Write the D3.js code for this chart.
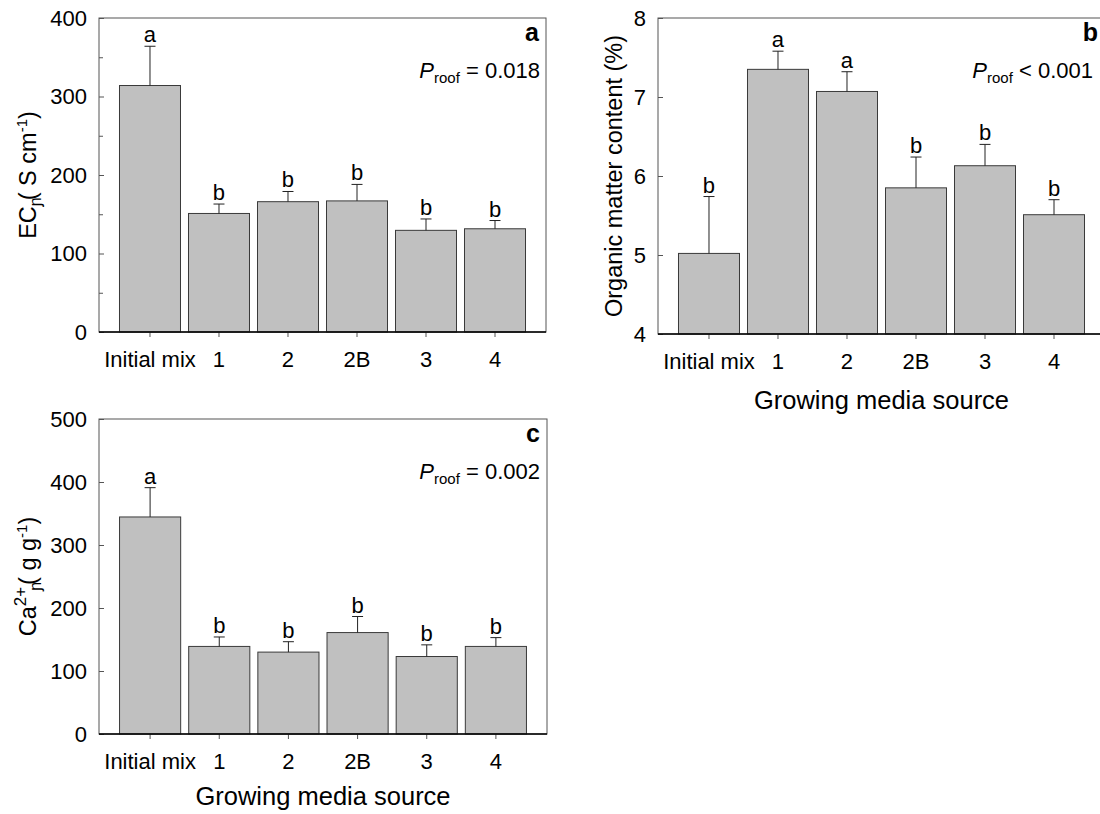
<!DOCTYPE html>
<html><head><meta charset="utf-8">
<script src="https://cdn.jsdelivr.net/npm/d3@7"></script>
<style>body{margin:0;background:#fff}svg{display:block}text{font-family:"Liberation Sans",Arial,sans-serif;fill:#000}</style>
</head><body>
<svg id="chart" width="1100" height="814"></svg>
<script>
const categories = ["Initial mix","1","2","2B","3","4"];
const ecValues = [314, 151, 166, 167, 129.5, 131.5];
const ecErrors = [364, 163, 179, 188, 144, 142];
const ecLetters = ["a","b","b","b","b","b"];
const omValues = [5.02, 7.35, 7.07, 5.85, 6.13, 5.51];
const omErrors = [5.74, 7.58, 7.32, 6.24, 6.40, 5.70];
const omLetters = ["b","a","a","b","b","b"];
const caValues = [344.5, 139, 130, 161, 123, 139];
const caErrors = [391, 154, 146.5, 186.5, 141.5, 153];
const caLetters = ["a","b","b","b","b","b"];
const ecTicks = [0,100,200,300,400];
const ecMinor = [50,150,250,350];
const omTicks = [4,5,6,7,8];
const caTicks = [0,100,200,300,400,500];

const svg = d3.select("#chart");
const FF = '"Liberation Sans",Arial,sans-serif';

function panel(o){
  const g = svg.append("g");
  const x = d3.scaleBand().domain(categories).range([o.x0,o.x1]).paddingInner(0.116).paddingOuter(0.297);
  const y = d3.scaleLinear().domain(o.domain).range([o.y1,o.y0]);
  g.selectAll("rect.bar").data(o.values).join("rect")
    .attr("x",(d,i)=>x(categories[i])).attr("width",x.bandwidth())
    .attr("y",d=>y(d)).attr("height",d=>y(o.domain[0])-y(d))
    .attr("fill","#c0c0c0").attr("stroke","#3a3a3a").attr("stroke-width",1);
  const cx = i => x(categories[i]) + x.bandwidth()/2;
  g.selectAll("line.err").data(o.errors).join("line")
    .attr("x1",(d,i)=>cx(i)).attr("x2",(d,i)=>cx(i))
    .attr("y1",(d,i)=>y(o.values[i])).attr("y2",d=>y(d))
    .attr("stroke","#222").attr("stroke-width",1);
  g.selectAll("line.cap").data(o.errors).join("line")
    .attr("x1",(d,i)=>cx(i)-5.5).attr("x2",(d,i)=>cx(i)+5.5)
    .attr("y1",d=>y(d)).attr("y2",d=>y(d))
    .attr("stroke","#222").attr("stroke-width",1);
  g.selectAll("text.let").data(o.letters).join("text")
    .attr("x",(d,i)=>cx(i)).attr("y",(d,i)=>y(o.errors[i])-4)
    .attr("text-anchor","middle").attr("font-size",22).text(d=>d);
  g.append("rect").attr("x",o.x0).attr("y",o.y0).attr("width",o.x1-o.x0).attr("height",o.y1-o.y0)
    .attr("fill","none").attr("stroke","#555").attr("stroke-width",1);
  const ya = d3.axisLeft(y).tickValues(o.ticks).tickSize(-5).tickPadding(12).tickFormat(d3.format("d"));
  const yg = g.append("g").attr("transform",`translate(${o.x0},0)`).call(ya);
  yg.select(".domain").remove();
  yg.selectAll("line").attr("stroke","#555");
  yg.selectAll("text").attr("font-size",22).attr("font-family",FF);
  if(o.minor){
    const ym = d3.axisLeft(y).tickValues(o.minor).tickSize(-4).tickFormat("");
    const mg = g.append("g").attr("transform",`translate(${o.x0},0)`).call(ym);
    mg.select(".domain").remove();
    mg.selectAll("line").attr("stroke","#555");
  }
  const xa = d3.axisBottom(x).tickSize(5).tickPadding(14);
  const xg = g.append("g").attr("transform",`translate(0,${o.y1})`).call(xa);
  xg.select(".domain").remove();
  xg.selectAll("line").attr("stroke","#555");
  xg.selectAll("text").attr("font-size",22).attr("font-family",FF);
  g.append("line").attr("x1",o.x0).attr("x2",o.x1).attr("y1",o.y1).attr("y2",o.y1).attr("stroke","#000").attr("stroke-width",1.6);
  g.append("text").attr("x",o.x1-7).attr("y",o.y0+23).attr("text-anchor","end")
    .attr("font-size",25).attr("font-weight","bold").text(o.tag);
  const pt = g.append("text").attr("x",o.px).attr("y",o.y0+60).attr("text-anchor","end").attr("font-size",22);
  pt.append("tspan").attr("font-style","italic").text("P");
  pt.append("tspan").attr("font-size",15).attr("dy",5).text("roof");
  pt.append("tspan").attr("dy",-5).text(" " + o.ptext);
  if(o.xtitle){
    g.append("text").attr("x",(o.x0+o.x1)/2).attr("y",o.y1+o.xtoff).attr("text-anchor","middle")
      .attr("font-size",25.5).text("Growing media source");
  }
  const yt = g.append("text").attr("transform",`translate(${o.ytx},${(o.y0+o.y1)/2}) rotate(-90)`)
    .attr("text-anchor","middle").attr("font-size",23.5);
  o.ytitle(yt);
}

panel({x0:99,x1:546,y0:18,y1:332,domain:[0,400],values:ecValues,errors:ecErrors,letters:ecLetters,
  ticks:ecTicks,minor:ecMinor,tag:"a",px:540,ptext:"= 0.018",xtitle:false,ytx:36,
  ytitle:t=>{t.append("tspan").text("EC");
    t.append("tspan").attr("font-size",16).attr("dy",5).text("ɲ");
    t.append("tspan").attr("dy",-5).attr("dx",-3).text("(");
    t.append("tspan").text(" S cm");
    t.append("tspan").attr("font-size",15).attr("dy",-9).text("-1");
    t.append("tspan").attr("dy",9).text(")");}});

panel({x0:658,x1:1105,y0:18,y1:334,domain:[4,8],values:omValues,errors:omErrors,letters:omLetters,
  ticks:omTicks,minor:null,tag:"b",px:1093,ptext:"< 0.001",xtitle:true,xtoff:75,ytx:622,
  ytitle:t=>{t.text("Organic matter content (%)");}});

panel({x0:99,x1:547,y0:419,y1:734,domain:[0,500],values:caValues,errors:caErrors,letters:caLetters,
  ticks:caTicks,minor:null,tag:"c",px:540,ptext:"= 0.002",xtitle:true,xtoff:71,ytx:36,
  ytitle:t=>{t.append("tspan").text("Ca");
    t.append("tspan").attr("font-size",17).attr("dy",-10).text("2+");
    t.append("tspan").attr("font-size",16).attr("dy",15).attr("dx",-4).text("ɲ");
    t.append("tspan").attr("dy",-5).attr("dx",-3).text("(");
    t.append("tspan").text(" g g");
    t.append("tspan").attr("font-size",15).attr("dy",-9).text("-1");
    t.append("tspan").attr("dy",9).text(")");}});
</script>
</body></html>
